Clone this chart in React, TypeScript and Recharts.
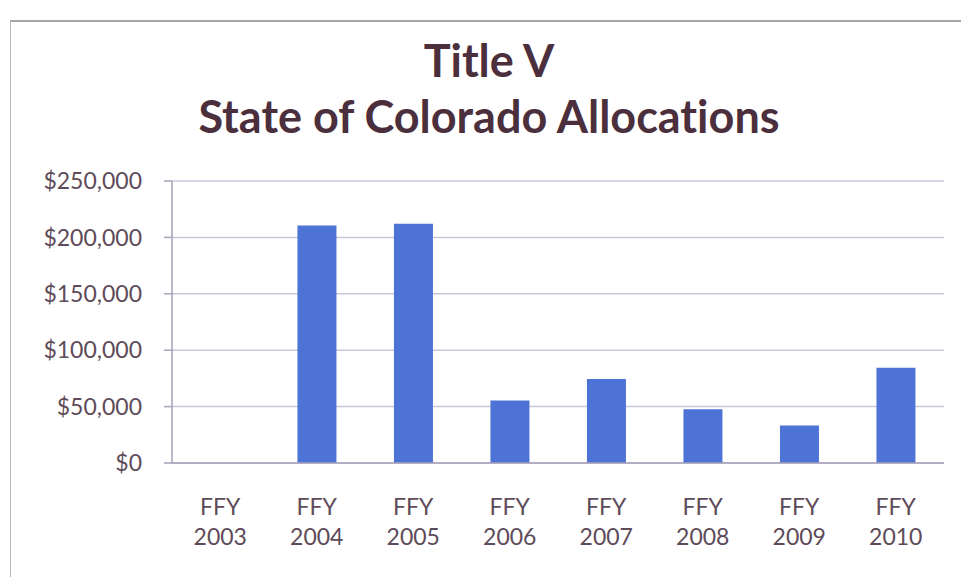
import React from "react";
import {
  BarChart,
  Bar,
  XAxis,
  YAxis,
  CartesianGrid,
} from "recharts";

const YEARS = ["2003", "2004", "2005", "2006", "2007", "2008", "2009", "2010"];
const ALLOCATIONS = [0, 210500, 212000, 55300, 74500, 47700, 33200, 84500];
const Y_TICKS = [0, 50000, 100000, 150000, 200000, 250000];
const EDGE_TICKS = [0, 1, 2, 3, 4, 5, 6, 7, 8];

const data = YEARS.map((year, i) => ({ year, value: ALLOCATIONS[i] }));

const FONT = "Lato, 'Open Sans', sans-serif";
const LABEL = "#5e4b59";
const GRID = "#cbc5dc";
const AXIS = "#a9a2b9";

const money = (v: number) => "$" + v.toLocaleString("en-US");

function YearTick({ x, y, payload }: any) {
  return (
    <text x={x} textAnchor="middle" fill={LABEL} fontFamily={FONT} fontSize={23}>
      <tspan x={x} y={y + 34}>FFY</tspan>
      <tspan x={x} y={y + 64}>{payload.value}</tspan>
    </text>
  );
}

export default function App() {
  return (
    <div
      style={{
        position: "absolute",
        left: 0,
        top: 0,
        width: 961,
        height: 577,
        background: "#fff",
        overflow: "hidden",
      }}
    >
      {/* frame */}
      <div
        style={{
          position: "absolute",
          left: 10,
          top: 20,
          width: 960,
          height: 570,
          borderTop: "2px solid #aaa3aa",
          borderLeft: "1px solid #bdb6bd",
        }}
      />
      <div
        style={{
          position: "absolute",
          left: 0,
          top: 32,
          width: 978,
          textAlign: "center",
          fontFamily: FONT,
          fontWeight: 700,
          fontSize: 45,
          lineHeight: "56px",
          fontVariantLigatures: "none",
          color: "#4b2f3d",
        }}
      >
        <div>Title V</div>
        <div>State of Colorado Allocations</div>
      </div>
      <div style={{ position: "absolute", left: 0, top: 0 }}>
        <BarChart
          width={961}
          height={577}
          data={data}
          margin={{ top: 181, right: 17, left: 0, bottom: 4 }}
          barCategoryGap="30%"
        >
          <CartesianGrid
            vertical={false}
            stroke={GRID}
            strokeWidth={1.5}
            xAxisId="b_cat"
          />
          <XAxis
            xAxisId="a_edges"
            type="number"
            domain={[0, 8]}
            ticks={EDGE_TICKS}
            allowDataOverflow
            tick={false}
            tickSize={7}
            height={10}
            stroke={AXIS}
            strokeWidth={1.5}
          />
          <XAxis
            xAxisId="b_cat"
            dataKey="year"
            axisLine={false}
            tickLine={false}
            tick={<YearTick />}
            height={100}
            interval={0}
          />
          <YAxis
            ticks={Y_TICKS}
            domain={[0, 250000]}
            tickFormatter={money}
            width={172}
            tickSize={8}
            tickMargin={22}
            stroke={AXIS}
            strokeWidth={1.5}
            tick={{ fill: LABEL, fontFamily: FONT, fontSize: 23 }}
          />
          <Bar
            xAxisId="b_cat"
            dataKey="value"
            fill="#4e73d6"
            isAnimationActive={false}
          />
        </BarChart>
      </div>
    </div>
  );
}
